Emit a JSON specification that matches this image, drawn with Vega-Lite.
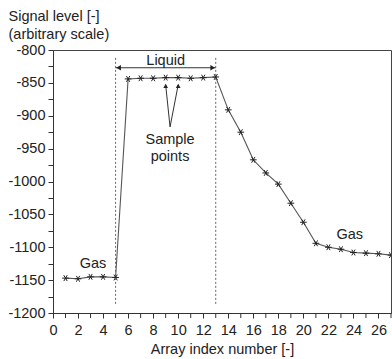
{
  "$schema": "https://vega.github.io/schema/vega-lite/v6.json",
  "autosize": {"type": "none"},
  "padding": {"left": 53, "top": 50, "right": 1, "bottom": 46},
  "width": 338,
  "height": 263,
  "background": "white",
  "config": {
    "font": "Liberation Sans",
    "view": {"stroke": "#444", "strokeWidth": 1},
    "axis": {
      "grid": false,
      "domainColor": "#333",
      "tickColor": "#333",
      "labelColor": "#222",
      "titleColor": "#222",
      "labelFont": "Liberation Sans",
      "titleFont": "Liberation Sans",
      "labelFontSize": 14.5,
      "titleFontSize": 14.5,
      "titleFontWeight": "normal",
      "tickSize": 5,
      "labelOverlap": false,
      "labelFlush": false
    },
    "axisX": {
      "labelPadding": 5,
      "titlePadding": 6
    },
    "axisY": {
      "titleAngle": 0,
      "titleAlign": "left",
      "titleBaseline": "top",
      "titleX": -45,
      "titleY": -41,
      "titleLineHeight": 18,
      "labelPadding": 3
    }
  },
  "datasets": {
    "signal": [
      {"index": 1, "level": -1147}, {"index": 2, "level": -1148}, {"index": 3, "level": -1145},
      {"index": 4, "level": -1145}, {"index": 5, "level": -1146}, {"index": 6, "level": -844},
      {"index": 7, "level": -843}, {"index": 8, "level": -843}, {"index": 9, "level": -842},
      {"index": 10, "level": -842}, {"index": 11, "level": -843}, {"index": 12, "level": -842},
      {"index": 13, "level": -841}, {"index": 14, "level": -891}, {"index": 15, "level": -925},
      {"index": 16, "level": -967}, {"index": 17, "level": -987}, {"index": 18, "level": -1004},
      {"index": 19, "level": -1033}, {"index": 20, "level": -1062}, {"index": 21, "level": -1094},
      {"index": 22, "level": -1100}, {"index": 23, "level": -1103}, {"index": 24, "level": -1108},
      {"index": 25, "level": -1109}, {"index": 26, "level": -1110}, {"index": 27, "level": -1112}
    ],
    "bounds": [
      {"index": 5, "top": -812, "bottom": -1188},
      {"index": 13, "top": -812, "bottom": -1188}
    ],
    "labels": [
      {"index": 3.2, "level": -1125, "text": "Gas"},
      {"index": 23.7, "level": -1081, "text": "Gas"},
      {"index": 9, "level": -816, "text": "Liquid"},
      {"index": 9.35, "level": -937, "text": "Sample"},
      {"index": 9.35, "level": -963, "text": "points"}
    ],
    "pointers": [
      {"index": 9.35, "level": -917, "tipIndex": 9, "tipLevel": -853},
      {"index": 9.35, "level": -917, "tipIndex": 10, "tipLevel": -853}
    ],
    "minorTicks": [
      {"index": 1}, {"index": 3}, {"index": 5}, {"index": 7}, {"index": 9}, {"index": 11}, {"index": 13},
      {"index": 15}, {"index": 17}, {"index": 19}, {"index": 21}, {"index": 23}, {"index": 25}, {"index": 27}
    ]
  },
  "layer": [
    {
      "data": {"name": "signal"},
      "mark": {"type": "line", "color": "#555", "strokeWidth": 1.1},
      "encoding": {
        "x": {"field": "index", "type": "quantitative", "scale": {"domain": [0, 27], "nice": false, "zero": false}, "axis": {"title": "Array index number [-]", "values": [0,2,4,6,8,10,12,14,16,18,20,22,24,26], "labelOverlap": false}},
        "y": {"field": "level", "type": "quantitative", "scale": {"domain": [-1200, -800], "nice": false, "zero": false}, "axis": {"title": ["Signal level [-]", "(arbitrary scale)"], "values": [-1200,-1175,-1150,-1125,-1100,-1075,-1050,-1025,-1000,-975,-950,-925,-900,-875,-850,-825,-800], "labelExpr": "datum.value % 50 == 0 ? '' + datum.value : ''"}}
      }
    },
    {
      "data": {"name": "signal"},
      "mark": {
        "type": "point",
        "shape": "M-1,0L1,0M-0.5,-0.866L0.5,0.866M-0.5,0.866L0.5,-0.866",
        "filled": false,
        "color": "#222",
        "strokeWidth": 1,
        "size": 45,
        "opacity": 1,
        "clip": true
      },
      "encoding": {
        "x": {"field": "index", "type": "quantitative", "scale": {"domain": [0, 27], "nice": false, "zero": false}, "axis": {"title": "Array index number [-]", "values": [0,2,4,6,8,10,12,14,16,18,20,22,24,26], "labelOverlap": false}},
        "y": {"field": "level", "type": "quantitative", "scale": {"domain": [-1200, -800], "nice": false, "zero": false}, "axis": {"title": ["Signal level [-]", "(arbitrary scale)"], "values": [-1200,-1175,-1150,-1125,-1100,-1075,-1050,-1025,-1000,-975,-950,-925,-900,-875,-850,-825,-800], "labelExpr": "datum.value % 50 == 0 ? '' + datum.value : ''"}}
      }
    },
    {
      "data": {"name": "minorTicks"},
      "mark": {"type": "rule", "color": "#333", "strokeWidth": 1, "y2Offset": 5, "clip": false},
      "encoding": {
        "x": {"field": "index", "type": "quantitative", "scale": {"domain": [0, 27], "nice": false, "zero": false}, "axis": {"title": "Array index number [-]", "values": [0,2,4,6,8,10,12,14,16,18,20,22,24,26], "labelOverlap": false}},
        "y": {"datum": -1200, "type": "quantitative", "scale": {"domain": [-1200, -800], "nice": false, "zero": false}, "axis": {"title": ["Signal level [-]", "(arbitrary scale)"], "values": [-1200,-1175,-1150,-1125,-1100,-1075,-1050,-1025,-1000,-975,-950,-925,-900,-875,-850,-825,-800], "labelExpr": "datum.value % 50 == 0 ? '' + datum.value : ''"}},
        "y2": {"datum": -1200}
      }
    },
    {
      "data": {"name": "bounds"},
      "mark": {"type": "rule", "color": "#666", "strokeWidth": 1, "strokeDash": [2, 2]},
      "encoding": {
        "x": {"field": "index", "type": "quantitative", "scale": {"domain": [0, 27], "nice": false, "zero": false}, "axis": {"title": "Array index number [-]", "values": [0,2,4,6,8,10,12,14,16,18,20,22,24,26], "labelOverlap": false}},
        "y": {"field": "top", "type": "quantitative", "scale": {"domain": [-1200, -800], "nice": false, "zero": false}, "axis": {"title": ["Signal level [-]", "(arbitrary scale)"], "values": [-1200,-1175,-1150,-1125,-1100,-1075,-1050,-1025,-1000,-975,-950,-925,-900,-875,-850,-825,-800], "labelExpr": "datum.value % 50 == 0 ? '' + datum.value : ''"}},
        "y2": {"field": "bottom"}
      }
    },
    {
      "data": {"name": "bounds"},
      "transform": [{"aggregate": [{"op": "min", "field": "index", "as": "from"}, {"op": "max", "field": "index", "as": "to"}]}],
      "mark": {"type": "rule", "color": "#333", "strokeWidth": 1},
      "encoding": {
        "x": {"field": "from", "type": "quantitative", "scale": {"domain": [0, 27], "nice": false, "zero": false}, "axis": {"title": "Array index number [-]", "values": [0,2,4,6,8,10,12,14,16,18,20,22,24,26], "labelOverlap": false}},
        "x2": {"field": "to"},
        "y": {"datum": -827, "type": "quantitative", "scale": {"domain": [-1200, -800], "nice": false, "zero": false}, "axis": {"title": ["Signal level [-]", "(arbitrary scale)"], "values": [-1200,-1175,-1150,-1125,-1100,-1075,-1050,-1025,-1000,-975,-950,-925,-900,-875,-850,-825,-800], "labelExpr": "datum.value % 50 == 0 ? '' + datum.value : ''"}}
      }
    },
    {
      "data": {"name": "bounds"},
      "transform": [{"aggregate": [{"op": "min", "field": "index", "as": "from"}]}],
      "mark": {"type": "point", "shape": "triangle-left", "filled": true, "color": "#222", "size": 30, "opacity": 1, "xOffset": 3},
      "encoding": {
        "x": {"field": "from", "type": "quantitative", "scale": {"domain": [0, 27], "nice": false, "zero": false}, "axis": {"title": "Array index number [-]", "values": [0,2,4,6,8,10,12,14,16,18,20,22,24,26], "labelOverlap": false}},
        "y": {"datum": -827, "type": "quantitative", "scale": {"domain": [-1200, -800], "nice": false, "zero": false}, "axis": {"title": ["Signal level [-]", "(arbitrary scale)"], "values": [-1200,-1175,-1150,-1125,-1100,-1075,-1050,-1025,-1000,-975,-950,-925,-900,-875,-850,-825,-800], "labelExpr": "datum.value % 50 == 0 ? '' + datum.value : ''"}}
      }
    },
    {
      "data": {"name": "bounds"},
      "transform": [{"aggregate": [{"op": "max", "field": "index", "as": "to"}]}],
      "mark": {"type": "point", "shape": "triangle-right", "filled": true, "color": "#222", "size": 30, "opacity": 1, "xOffset": -3},
      "encoding": {
        "x": {"field": "to", "type": "quantitative", "scale": {"domain": [0, 27], "nice": false, "zero": false}, "axis": {"title": "Array index number [-]", "values": [0,2,4,6,8,10,12,14,16,18,20,22,24,26], "labelOverlap": false}},
        "y": {"datum": -827, "type": "quantitative", "scale": {"domain": [-1200, -800], "nice": false, "zero": false}, "axis": {"title": ["Signal level [-]", "(arbitrary scale)"], "values": [-1200,-1175,-1150,-1125,-1100,-1075,-1050,-1025,-1000,-975,-950,-925,-900,-875,-850,-825,-800], "labelExpr": "datum.value % 50 == 0 ? '' + datum.value : ''"}}
      }
    },
    {
      "data": {"name": "pointers"},
      "mark": {"type": "rule", "color": "#333", "strokeWidth": 1},
      "encoding": {
        "x": {"field": "index", "type": "quantitative", "scale": {"domain": [0, 27], "nice": false, "zero": false}, "axis": {"title": "Array index number [-]", "values": [0,2,4,6,8,10,12,14,16,18,20,22,24,26], "labelOverlap": false}},
        "y": {"field": "level", "type": "quantitative", "scale": {"domain": [-1200, -800], "nice": false, "zero": false}, "axis": {"title": ["Signal level [-]", "(arbitrary scale)"], "values": [-1200,-1175,-1150,-1125,-1100,-1075,-1050,-1025,-1000,-975,-950,-925,-900,-875,-850,-825,-800], "labelExpr": "datum.value % 50 == 0 ? '' + datum.value : ''"}},
        "x2": {"field": "tipIndex"},
        "y2": {"field": "tipLevel"}
      }
    },
    {
      "data": {"name": "pointers"},
      "mark": {"type": "point", "shape": "triangle-up", "filled": true, "color": "#222", "size": 22, "opacity": 1, "yOffset": 1},
      "encoding": {
        "x": {"field": "tipIndex", "type": "quantitative", "scale": {"domain": [0, 27], "nice": false, "zero": false}, "axis": {"title": "Array index number [-]", "values": [0,2,4,6,8,10,12,14,16,18,20,22,24,26], "labelOverlap": false}},
        "y": {"field": "tipLevel", "type": "quantitative", "scale": {"domain": [-1200, -800], "nice": false, "zero": false}, "axis": {"title": ["Signal level [-]", "(arbitrary scale)"], "values": [-1200,-1175,-1150,-1125,-1100,-1075,-1050,-1025,-1000,-975,-950,-925,-900,-875,-850,-825,-800], "labelExpr": "datum.value % 50 == 0 ? '' + datum.value : ''"}}
      }
    },
    {
      "data": {"name": "labels"},
      "mark": {"type": "text", "font": "Liberation Sans", "fontSize": 14.5, "color": "#222", "align": "center", "baseline": "middle"},
      "encoding": {
        "x": {"field": "index", "type": "quantitative", "scale": {"domain": [0, 27], "nice": false, "zero": false}, "axis": {"title": "Array index number [-]", "values": [0,2,4,6,8,10,12,14,16,18,20,22,24,26], "labelOverlap": false}},
        "y": {"field": "level", "type": "quantitative", "scale": {"domain": [-1200, -800], "nice": false, "zero": false}, "axis": {"title": ["Signal level [-]", "(arbitrary scale)"], "values": [-1200,-1175,-1150,-1125,-1100,-1075,-1050,-1025,-1000,-975,-950,-925,-900,-875,-850,-825,-800], "labelExpr": "datum.value % 50 == 0 ? '' + datum.value : ''"}},
        "text": {"field": "text"}
      }
    }
  ]
}
